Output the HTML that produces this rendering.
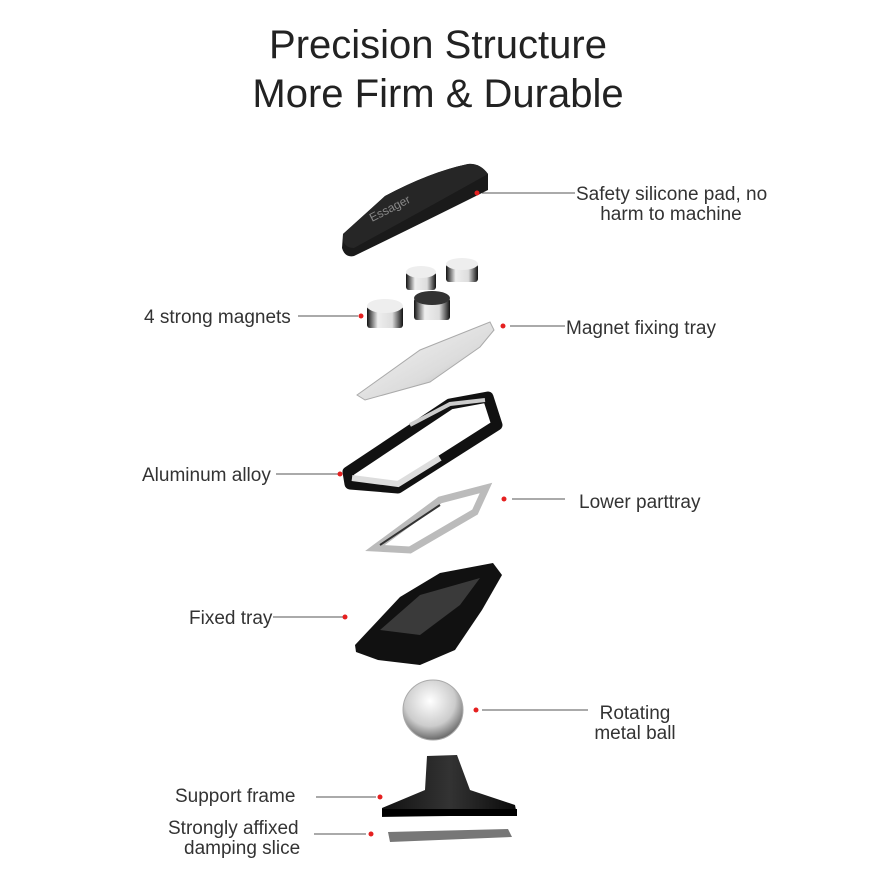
<!DOCTYPE html>
<html><head><meta charset="utf-8"><style>
html,body{margin:0;padding:0;background:#fff;}
svg{display:block;}
text{font-family:"Liberation Sans",sans-serif;fill:#333;}
.t{font-size:40px;fill:#222;font-weight:300;}
.l{font-size:19px;}
.ln{stroke:#555;stroke-width:1;}
.d{fill:#e52020;}
</style></head><body>
<svg width="880" height="880" viewBox="0 0 880 880" xmlns="http://www.w3.org/2000/svg">
<defs>
<linearGradient id="sil" x1="0" y1="0" x2="1" y2="1">
<stop offset="0" stop-color="#f8f8f8"/><stop offset="0.6" stop-color="#dcdcdc"/><stop offset="1" stop-color="#999"/></linearGradient>
<radialGradient id="ball" cx="0.45" cy="0.35" r="0.7">
<stop offset="0" stop-color="#fff"/><stop offset="0.6" stop-color="#ccc"/><stop offset="1" stop-color="#555"/></radialGradient>
<linearGradient id="mag" x1="0" y1="0" x2="1" y2="0">
<stop offset="0" stop-color="#111"/><stop offset="0.3" stop-color="#eee"/><stop offset="0.7" stop-color="#ddd"/><stop offset="1" stop-color="#111"/></linearGradient>
<linearGradient id="blk" x1="0" y1="0" x2="1" y2="0">
<stop offset="0" stop-color="#111"/><stop offset="0.5" stop-color="#333"/><stop offset="1" stop-color="#0a0a0a"/></linearGradient>
</defs>
<text class="t" x="438" y="58" text-anchor="middle">Precision Structure</text>
<text class="t" x="438" y="107" text-anchor="middle">More Firm &amp; Durable</text>

<!-- pad -->
<path d="M343,234 L385,196 Q430,172 468,164 Q480,163 488,174 L488,190 Q420,224 354,256 Q345,258 342,248Z" fill="#1a1a1a"/>
<path d="M343,234 L385,196 Q430,172 468,164 Q480,163 488,174 Q420,212 354,248 Q345,248 343,240Z" fill="#262626"/>
<text x="372" y="222" font-size="12" transform="rotate(-27 372 222)" style="fill:#888">Essager</text>
<!-- magnets -->
<g>
<rect x="406" y="272" width="30" height="18" rx="3" fill="url(#mag)"/><ellipse cx="421" cy="272" rx="15" ry="6" fill="#eee"/>
<rect x="446" y="264" width="32" height="18" rx="3" fill="url(#mag)"/><ellipse cx="462" cy="264" rx="16" ry="6" fill="#eee"/>
<rect x="367" y="306" width="36" height="22" rx="3" fill="url(#mag)"/><ellipse cx="385" cy="306" rx="18" ry="7" fill="#eee"/>
<rect x="414" y="298" width="36" height="22" rx="3" fill="url(#mag)"/><ellipse cx="432" cy="298" rx="18" ry="7" fill="#333"/>
</g>
<!-- magnet tray -->
<path d="M357,395 L420,350 L490,322 L494,330 L480,347 L430,382 L365,400Z" fill="url(#sil)" stroke="#aaa"/>
<!-- aluminum -->
<path d="M348,472 L450,404 L488,397 L497,425 L398,488 L350,484Z" fill="none" stroke="#111" stroke-width="11" stroke-linejoin="round"/>
<path d="M352,478 L398,484 L440,458" fill="none" stroke="#ddd" stroke-width="6"/>
<path d="M410,425 L450,404 L485,400" fill="none" stroke="#ccc" stroke-width="4"/>
<!-- lower tray -->
<path d="M375,548 L440,500 L486,488 L475,512 L410,550Z" fill="none" stroke="#bbb" stroke-width="7"/>
<path d="M380,545 L440,505" stroke="#333" stroke-width="2"/>
<!-- fixed tray -->
<path d="M355,645 L400,597 L440,573 L493,563 L502,575 L482,610 L455,650 L420,665 L378,660 L356,652Z" fill="#111"/>
<path d="M380,630 L420,595 L480,578 L460,605 L420,635Z" fill="#3a3a3a"/>
<!-- ball -->
<circle cx="433" cy="710" r="30" fill="url(#ball)" stroke="#aaa"/>
<!-- support -->
<path d="M427,756 L457,755 L470,790 L515,805 L517,815 L382,817 L382,808 L425,790Z" fill="url(#blk)"/>
<rect x="382" y="809" width="135" height="7" fill="#000"/>
<!-- damping -->
<path d="M388,832 L508,829 L512,837 L390,842Z" fill="#777"/>

<!-- labels -->
<line class="ln" x1="482" y1="193" x2="575" y2="193"/><circle class="d" cx="477" cy="193" r="2.5"/>
<text class="l" x="576" y="200">Safety silicone pad, no</text>
<text class="l" x="671" y="220" text-anchor="middle">harm to machine</text>

<text class="l" x="144" y="323">4 strong magnets</text>
<line class="ln" x1="298" y1="316" x2="358" y2="316"/><circle class="d" cx="361" cy="316" r="2.5"/>

<circle class="d" cx="503" cy="326" r="2.5"/><line class="ln" x1="510" y1="326" x2="565" y2="326"/>
<text class="l" x="566" y="334">Magnet fixing tray</text>

<text class="l" x="142" y="481">Aluminum alloy</text>
<line class="ln" x1="276" y1="474" x2="338" y2="474"/><circle class="d" cx="340" cy="474" r="2.5"/>

<circle class="d" cx="504" cy="499" r="2.5"/><line class="ln" x1="512" y1="499" x2="565" y2="499"/>
<text class="l" x="579" y="508">Lower parttray</text>

<text class="l" x="189" y="624">Fixed tray</text>
<line class="ln" x1="273" y1="617" x2="343" y2="617"/><circle class="d" cx="345" cy="617" r="2.5"/>

<circle class="d" cx="476" cy="710" r="2.5"/><line class="ln" x1="482" y1="710" x2="588" y2="710"/>
<text class="l" x="635" y="719" text-anchor="middle">Rotating</text>
<text class="l" x="635" y="739" text-anchor="middle">metal ball</text>

<text class="l" x="175" y="802">Support frame</text>
<line class="ln" x1="316" y1="797" x2="376" y2="797"/><circle class="d" cx="380" cy="797" r="2.5"/>

<text class="l" x="168" y="834">Strongly affixed</text>
<text class="l" x="184" y="854">damping slice</text>
<line class="ln" x1="314" y1="834" x2="366" y2="834"/><circle class="d" cx="371" cy="834" r="2.5"/>
</svg>
</body></html>
